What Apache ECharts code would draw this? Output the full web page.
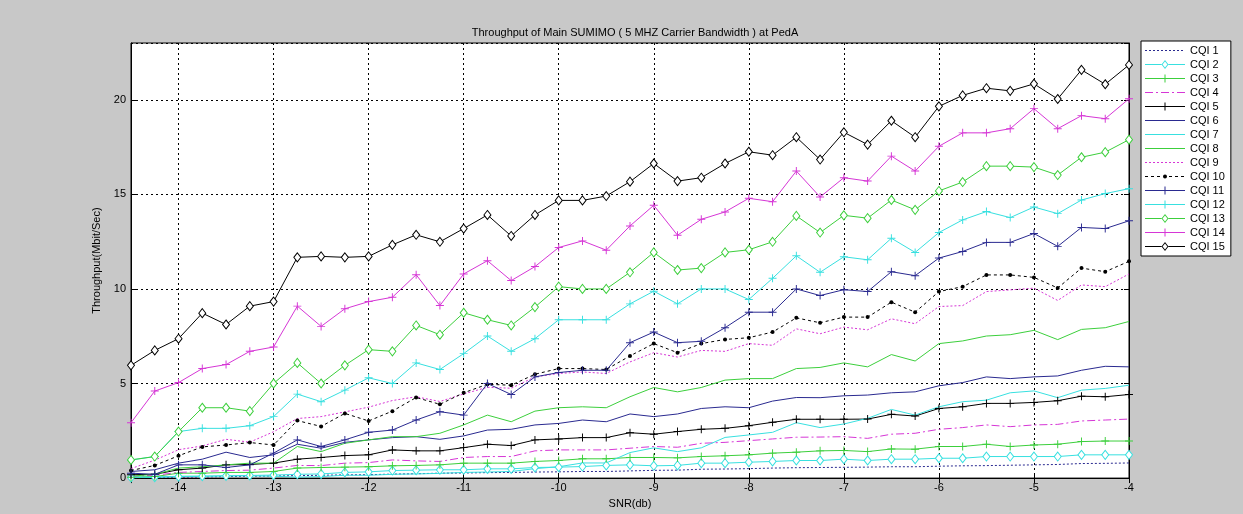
<!DOCTYPE html>
<html>
<head>
<meta charset="utf-8">
<script src="https://cdn.jsdelivr.net/npm/echarts@6/dist/echarts.min.js"></script>
<style>
  html, body { margin: 0; padding: 0; background: #c8c8c8; }
  #chart { width: 1243px; height: 514px; }
</style>
</head>
<body>
<div id="chart"></div>
<script>
// SNR (dB) sample points
const snr = [-14.5, -14.25, -14, -13.75, -13.5, -13.25, -13, -12.75, -12.5, -12.25, -12, -11.75, -11.5, -11.25,
  -11, -10.75, -10.5, -10.25, -10, -9.75, -9.5, -9.25, -9, -8.75, -8.5, -8.25, -8, -7.75, -7.5, -7.25,
  -7, -6.75, -6.5, -6.25, -6, -5.75, -5.5, -5.25, -5, -4.75, -4.5, -4.25, -4];

// throughput per CQI (Mbit/s)
const cqi1 = [0.02, 0.03, 0.05, 0.06, 0.08, 0.1, 0.11, 0.13, 0.15, 0.17, 0.18, 0.21, 0.23, 0.26, 0.27, 0.29, 0.3, 0.32, 0.33, 0.35, 0.35, 0.38, 0.41, 0.42, 0.47, 0.48, 0.5, 0.53, 0.55, 0.56, 0.57, 0.58, 0.6, 0.6, 0.63, 0.65, 0.66, 0.68, 0.7, 0.72, 0.77, 0.78, 0.8];
const cqi2 = [0.03, 0.05, 0.08, 0.1, 0.12, 0.14, 0.16, 0.2, 0.22, 0.3, 0.33, 0.4, 0.42, 0.44, 0.44, 0.49, 0.49, 0.56, 0.58, 0.61, 0.67, 0.7, 0.65, 0.67, 0.79, 0.79, 0.84, 0.88, 0.93, 0.93, 1.0, 0.93, 1.0, 1.0, 1.05, 1.05, 1.14, 1.14, 1.14, 1.14, 1.23, 1.23, 1.23];
const cqi3 = [0.05, 0.08, 0.26, 0.26, 0.3, 0.3, 0.35, 0.53, 0.56, 0.58, 0.6, 0.65, 0.67, 0.7, 0.79, 0.79, 0.79, 0.88, 0.93, 1.02, 1.02, 1.09, 1.09, 1.07, 1.14, 1.18, 1.23, 1.32, 1.37, 1.44, 1.46, 1.4, 1.54, 1.53, 1.67, 1.67, 1.79, 1.67, 1.75, 1.79, 1.93, 1.96, 1.96];
const cqi4 = [0.1, 0.15, 0.3, 0.35, 0.4, 0.42, 0.53, 0.67, 0.66, 0.79, 0.82, 0.96, 0.91, 0.88, 1.09, 1.14, 1.14, 1.44, 1.49, 1.49, 1.49, 1.58, 1.67, 1.63, 1.84, 1.89, 1.98, 2.07, 2.16, 2.17, 2.19, 2.1, 2.32, 2.37, 2.58, 2.67, 2.81, 2.72, 2.81, 2.84, 3.02, 3.07, 3.12];
const cqi5 = [0.18, 0.2, 0.44, 0.53, 0.7, 0.72, 0.79, 1.0, 1.09, 1.19, 1.23, 1.49, 1.44, 1.44, 1.61, 1.79, 1.72, 2.02, 2.07, 2.14, 2.14, 2.4, 2.32, 2.46, 2.58, 2.63, 2.77, 2.95, 3.11, 3.11, 3.11, 3.12, 3.37, 3.28, 3.68, 3.77, 3.95, 3.95, 4.0, 4.09, 4.33, 4.3, 4.42];
const cqi6 = [0.35, 0.44, 0.79, 1.0, 1.37, 1.09, 1.23, 1.79, 1.58, 1.89, 2.02, 2.14, 2.19, 2.05, 2.23, 2.54, 2.58, 2.81, 2.89, 3.07, 2.98, 3.39, 3.25, 3.39, 3.68, 3.77, 3.72, 4.07, 4.26, 4.25, 4.35, 4.39, 4.51, 4.56, 4.88, 5.05, 5.35, 5.26, 5.35, 5.4, 5.7, 5.91, 5.88];
const cqi7 = [0.05, 0.05, 0.1, 0.1, 0.12, 0.12, 0.1, 0.05, 0.08, 0.15, 0.15, 0.2, 0.22, 0.25, 0.3, 0.32, 0.35, 0.5, 0.6, 0.8, 0.8, 1.35, 1.6, 1.4, 1.6, 2.15, 2.28, 2.42, 2.93, 2.67, 2.86, 3.16, 3.63, 3.33, 3.77, 4.04, 4.12, 4.51, 4.61, 4.25, 4.65, 4.74, 4.91];
const cqi8 = [0.1, 0.2, 0.53, 0.6, 0.7, 0.79, 0.79, 1.67, 1.4, 1.84, 2.02, 2.19, 2.19, 2.37, 2.81, 3.33, 2.98, 3.54, 3.72, 3.77, 3.72, 4.3, 4.79, 4.56, 4.79, 5.18, 5.26, 5.26, 5.79, 5.85, 6.09, 5.88, 6.53, 6.19, 7.11, 7.25, 7.51, 7.58, 7.81, 7.32, 7.86, 7.95, 8.28];
const cqi9 = [0.5, 0.95, 1.5, 1.7, 2.05, 1.9, 2.45, 3.15, 3.25, 3.5, 3.75, 4.1, 4.3, 4.05, 4.45, 4.8, 4.75, 5.35, 5.53, 5.61, 5.53, 6.14, 6.63, 6.4, 6.75, 6.7, 7.11, 7.02, 7.89, 7.63, 7.98, 7.84, 8.42, 8.16, 9.07, 9.12, 9.86, 9.95, 10.04, 9.39, 10.21, 10.12, 10.79];
const cqi10 = [0.4, 0.67, 1.18, 1.65, 1.75, 1.88, 1.75, 3.04, 2.73, 3.42, 3.02, 3.54, 4.26, 3.9, 4.51, 4.96, 4.91, 5.49, 5.79, 5.79, 5.74, 6.46, 7.11, 6.63, 7.11, 7.33, 7.42, 7.72, 8.47, 8.21, 8.51, 8.51, 9.3, 8.77, 9.86, 10.12, 10.74, 10.74, 10.61, 10.05, 11.1, 10.91, 11.46];
const cqi11 = [0.26, 0.2, 0.7, 0.7, 0.56, 0.7, 1.32, 2.02, 1.67, 2.02, 2.42, 2.54, 3.07, 3.51, 3.33, 5.0, 4.42, 5.35, 5.58, 5.7, 5.7, 7.16, 7.72, 7.16, 7.23, 7.95, 8.77, 8.77, 10.0, 9.65, 9.96, 9.86, 10.91, 10.7, 11.63, 11.98, 12.46, 12.46, 12.93, 12.25, 13.25, 13.19, 13.6];
const cqi12 = [0.96, 1.14, 2.46, 2.63, 2.63, 2.77, 3.25, 4.44, 4.04, 4.65, 5.3, 5.0, 6.09, 5.74, 6.58, 7.51, 6.7, 7.37, 8.37, 8.37, 8.37, 9.21, 9.88, 9.21, 10.0, 10.0, 9.44, 10.56, 11.75, 10.88, 11.7, 11.54, 12.68, 11.93, 12.98, 13.65, 14.09, 13.77, 14.33, 13.98, 14.7, 15.04, 15.3];
const cqi13 = [0.96, 1.14, 2.46, 3.72, 3.72, 3.54, 5.0, 6.09, 5.0, 5.96, 6.79, 6.7, 8.07, 7.58, 8.74, 8.37, 8.07, 9.04, 10.12, 10.0, 10.0, 10.88, 11.93, 11.0, 11.1, 11.93, 12.07, 12.49, 13.86, 12.98, 13.89, 13.74, 14.7, 14.18, 15.18, 15.65, 16.49, 16.49, 16.44, 16.02, 16.96, 17.23, 17.89];
const cqi14 = [2.93, 4.6, 5.05, 5.79, 6.0, 6.7, 6.93, 9.09, 8.02, 8.95, 9.33, 9.56, 10.75, 9.12, 10.79, 11.49, 10.44, 11.18, 12.19, 12.54, 12.05, 13.33, 14.42, 12.84, 13.68, 14.07, 14.79, 14.61, 16.23, 14.86, 15.88, 15.7, 17.02, 16.23, 17.54, 18.25, 18.25, 18.47, 19.53, 18.47, 19.16, 19.0, 20.05];
const cqi15 = [5.96, 6.75, 7.37, 8.72, 8.12, 9.09, 9.33, 11.67, 11.72, 11.67, 11.72, 12.33, 12.86, 12.49, 13.19, 13.91, 12.8, 13.91, 14.68, 14.68, 14.91, 15.67, 16.63, 15.7, 15.88, 16.63, 17.25, 17.07, 18.02, 16.84, 18.28, 17.63, 18.89, 18.02, 19.65, 20.23, 20.61, 20.47, 20.84, 20.04, 21.58, 20.82, 21.84];

const plus = 'path://M4.4,0H5.6V4.4H10V5.6H5.6V10H4.4V5.6H0V4.4H4.4Z';

const black = '#000000';
const navy = '#2a2a90';
const cyan = '#38e0e0';
const green = '#3ccf3c';
const magenta = '#d636d6';

const lines = [
  { name: 'CQI 1', data: cqi1, color: navy, dash: [2, 2], symbol: 'none' },
  { name: 'CQI 2', data: cqi2, color: cyan, dash: 'solid', symbol: 'diamond', size: [7, 9] },
  { name: 'CQI 3', data: cqi3, color: green, dash: 'solid', symbol: plus, size: 8 },
  { name: 'CQI 4', data: cqi4, color: magenta, dash: [8, 3, 2, 3], symbol: 'none' },
  { name: 'CQI 5', data: cqi5, color: black, dash: 'solid', symbol: plus, size: 8 },
  { name: 'CQI 6', data: cqi6, color: navy, dash: 'solid', symbol: 'none' },
  { name: 'CQI 7', data: cqi7, color: cyan, dash: 'solid', symbol: 'none' },
  { name: 'CQI 8', data: cqi8, color: green, dash: 'solid', symbol: 'none' },
  { name: 'CQI 9', data: cqi9, color: magenta, dash: [2, 2], symbol: 'none' },
  { name: 'CQI 10', data: cqi10, color: black, dash: [3, 3], symbol: 'circle', size: 4 },
  { name: 'CQI 11', data: cqi11, color: navy, dash: 'solid', symbol: plus, size: 8 },
  { name: 'CQI 12', data: cqi12, color: cyan, dash: 'solid', symbol: plus, size: 8 },
  { name: 'CQI 13', data: cqi13, color: green, dash: 'solid', symbol: 'diamond', size: [7, 9] },
  { name: 'CQI 14', data: cqi14, color: magenta, dash: 'solid', symbol: plus, size: 8 },
  { name: 'CQI 15', data: cqi15, color: black, dash: 'solid', symbol: 'diamond', size: [7, 9] },
];

// legend icons drawn as 40x10 filled paths (line sample + marker, MATLAB style)
const bar = (x0, x1) => `M${x0},4.5H${x1}V5.5H${x0}Z`;
const frame = 'M0,0L0.01,0L0,0.01Z M40,10L39.99,10L40,9.99Z';
function lineIcon(dash, gapFrom, gapTo) {
  let s = frame;
  const pat = dash === 'solid' ? [40, 0] : dash;
  let x = 0;
  let k = 0;
  while (x < 40) {
    const len = pat[k % pat.length];
    if (k % 2 === 0 && len > 0) {
      const a = x;
      const b = Math.min(40, x + len);
      if (gapFrom != null && b > gapFrom && a < gapTo) {
        if (a < gapFrom) s += bar(a, gapFrom);
        if (b > gapTo) s += bar(gapTo, b);
      } else {
        s += bar(a, b);
      }
    }
    x += len || 1;
    k++;
  }
  return s;
}
function legendIcon(l) {
  if (l.symbol === 'diamond') {
    return 'path://' + lineIcon(l.dash, 16.5, 23.5) +
      'M20,0.5L23.5,5L20,9.5L16.5,5Z M20,1.9L17.6,5L20,8.1L22.4,5Z';
  }
  if (l.symbol === plus) {
    return 'path://' + lineIcon(l.dash) + 'M19.5,1H20.5V9H19.5Z';
  }
  if (l.symbol === 'circle') {
    return 'path://' + lineIcon(l.dash, 17, 23) + 'M22,5A2,2 0 1,1 18,5A2,2 0 1,1 22,5Z';
  }
  return 'path://' + lineIcon(l.dash);
}

const chart = echarts.init(document.getElementById('chart'));
const font = 'Liberation Sans, Arial, sans-serif';
const gridLine = { show: true, lineStyle: { color: '#000', width: 1, type: [2, 3] } };

chart.setOption({
  backgroundColor: '#c8c8c8',
  animation: false,
  textStyle: { fontFamily: font },
  title: {
    text: 'Throughput of Main SUMIMO ( 5 MHZ Carrier Bandwidth ) at PedA',
    left: 630,
    top: 22,
    textAlign: 'center',
    textStyle: { fontSize: 11, fontWeight: 'normal', color: '#000', fontFamily: font },
  },
  grid: {
    left: 131, right: 114, top: 43, bottom: 34,
    show: true, backgroundColor: '#fff', borderColor: '#000', borderWidth: 1,
  },
  legend: {
    orient: 'vertical',
    left: 1141,
    top: 41,
    padding: [4, 6, 4, 4],
    itemWidth: 40,
    itemHeight: 10,
    itemGap: 3,
    backgroundColor: '#fff',
    borderColor: '#000',
    borderWidth: 1,
    borderRadius: 0,
    textStyle: { fontSize: 11, color: '#000', fontFamily: font },
    data: lines.map((l) => ({
      name: l.name,
      icon: legendIcon(l),
      itemStyle: { color: l.color, borderWidth: 0, opacity: 1 },
    })),
  },
  xAxis: [
    {
      type: 'value', min: -14.5, max: -4, splitNumber: 10,
      name: 'SNR(db)', nameLocation: 'middle', nameGap: 17,
      nameTextStyle: { fontSize: 11, color: '#000', fontFamily: font },
      axisLine: { show: true, lineStyle: { color: '#000' } },
      axisTick: { show: true, inside: true, length: 5, lineStyle: { color: '#000' } },
      axisLabel: { showMinLabel: false, margin: 4, fontSize: 11, color: '#000', fontFamily: font },
      splitLine: gridLine,
    },
    {
      type: 'value', min: -14.5, max: -4, splitNumber: 10, position: 'top',
      axisLine: { show: true, lineStyle: { color: '#000' } },
      axisTick: { show: true, inside: true, length: 5, lineStyle: { color: '#000' } },
      axisLabel: { show: false },
      splitLine: { show: false },
    },
  ],
  yAxis: [
    {
      type: 'value', min: 0, max: 23, interval: 5,
      name: 'Throughput(Mbit/Sec)', nameLocation: 'middle', nameGap: 22,
      nameTextStyle: { fontSize: 11, color: '#000', fontFamily: font },
      axisLine: { show: true, lineStyle: { color: '#000' } },
      axisTick: { show: true, inside: true, length: 5, lineStyle: { color: '#000' } },
      axisLabel: { showMaxLabel: false, margin: 5, fontSize: 11, color: '#000', fontFamily: font },
      splitLine: gridLine,
    },
    {
      type: 'value', min: 0, max: 23, interval: 5, position: 'right',
      axisLine: { show: true, lineStyle: { color: '#000' } },
      axisTick: { show: true, inside: true, length: 5, lineStyle: { color: '#000' } },
      axisLabel: { show: false },
      splitLine: { show: false },
    },
  ],
  series: lines.map((l) => ({
    type: 'line',
    name: l.name,
    data: snr.map((x, i) => [x, l.data[i]]),
    symbol: l.symbol,
    symbolSize: l.size || 0,
    showAllSymbol: true,
    silent: true,
    lineStyle: { color: l.color, width: 1, type: l.dash },
    itemStyle: l.symbol === 'diamond'
      ? { color: '#fff', borderColor: l.color, borderWidth: 1 }
      : { color: l.color, borderWidth: 0 },
    emphasis: { disabled: true },
  })),
});
</script>
</body>
</html>
